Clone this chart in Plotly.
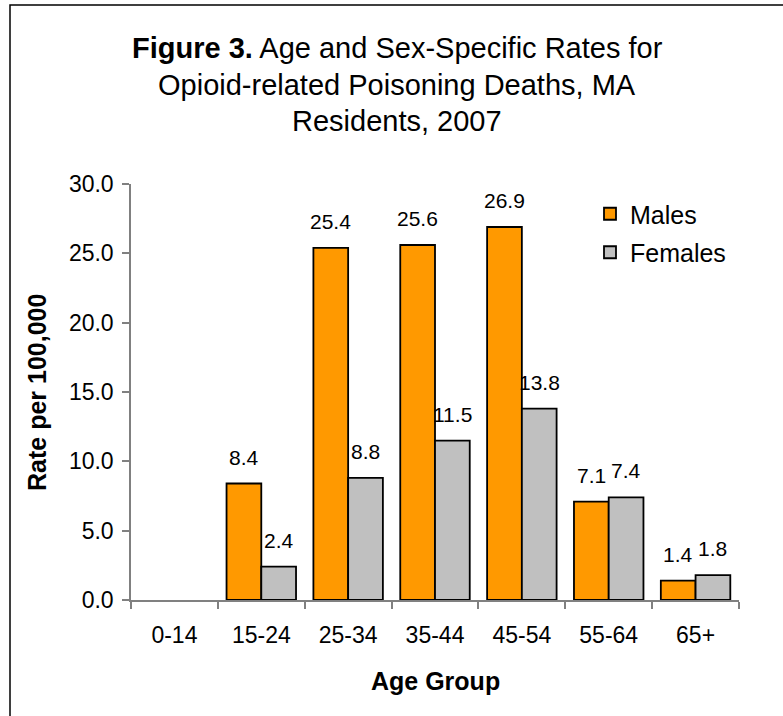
import plotly.graph_objects as go

# Age and sex-specific opioid poisoning death rates (per 100,000), MA 2007
age_groups = ["0-14", "15-24", "25-34", "35-44", "45-54", "55-64", "65+"]
males = [None, 8.4, 25.4, 25.6, 26.9, 7.1, 1.4]
females = [None, 2.4, 8.8, 11.5, 13.8, 7.4, 1.8]
y_ticks = [0, 5, 10, 15, 20, 25, 30]

FONT = "Liberation Sans, Arial, sans-serif"
ORANGE = "#FF9900"
GREY = "#C0C0C0"
AXIS = "#808080"

W, H = 783, 716
L, R, T, B = 131, 44, 184, 116
PW, PH = W - L - R, H - T - B


def px_x(x):
    return (x - L) / PW


def px_y(y):
    return (H - B - y) / PH


fig = go.Figure()
fig.add_trace(go.Bar(
    name="Males", x=age_groups, y=males, legendgroup="males",
    marker=dict(color=ORANGE, line=dict(color="black", width=1.8)),
))
fig.add_trace(go.Bar(
    name="Females", x=age_groups, y=females, legendgroup="females",
    marker=dict(color=GREY, line=dict(color="black", width=1.8)),
))

annotations = []
# value labels above each bar
group_w = PW / len(age_groups) * 0.8
for vals, shift in ((males, -group_w / 4), (females, group_w / 4)):
    for cat, v in zip(age_groups, vals):
        if v is None:
            continue
        annotations.append(dict(
            x=cat, y=v, xref="x", yref="y", xshift=shift, yshift=13,
            text=f"{v:.1f}", showarrow=False, yanchor="bottom",
            font=dict(family=FONT, size=21, color="black"),
        ))

# title lines
title_lines = [
    "<b>Figure 3.</b> Age and Sex-Specific Rates for",
    "Opioid-related Poisoning Deaths, MA",
    "Residents, 2007",
]
for line, yc in zip(title_lines, (48, 85, 121)):
    annotations.append(dict(
        x=px_x(397), y=px_y(yc), xref="paper", yref="paper",
        text=line, showarrow=False, xanchor="center", yanchor="middle",
        font=dict(family=FONT, size=29, color="black"),
    ))

# axis titles
annotations.append(dict(
    x=px_x(435), y=px_y(681), xref="paper", yref="paper",
    text="<b>Age Group</b>", showarrow=False, xanchor="center", yanchor="middle",
    font=dict(family=FONT, size=25, color="black"),
))
annotations.append(dict(
    x=px_x(37), y=px_y(393), xref="paper", yref="paper",
    text="<b>Rate per 100,000</b>", showarrow=False, textangle=-90,
    xanchor="center", yanchor="middle",
    font=dict(family=FONT, size=25, color="black"),
))

# outer chart frame (top and left edges fall inside the canvas)
shapes = [dict(
    type="rect", xref="paper", yref="paper",
    x0=px_x(10), x1=px_x(W + 20), y0=px_y(H + 20), y1=px_y(5),
    line=dict(color="black", width=1.5), fillcolor="rgba(0,0,0,0)",
    layer="below",
)]

fig.update_layout(
    width=W, height=H,
    margin=dict(l=L, r=R, t=T, b=B, pad=0),
    paper_bgcolor="white", plot_bgcolor="white",
    barmode="group", bargap=0.2, bargroupgap=0,
    font=dict(family=FONT, color="black"),
    showlegend=True,
    legend=dict(
        x=px_x(590), y=px_y(191), xanchor="left", yanchor="top",
        font=dict(family=FONT, size=25, color="black"),
        bgcolor="rgba(0,0,0,0)", borderwidth=0,
        traceorder="grouped", tracegroupgap=3, itemclick=False,
    ),
    annotations=annotations,
    shapes=shapes,
    xaxis=dict(
        type="category", range=[-0.5, len(age_groups) - 0.5],
        showline=True, linecolor=AXIS, linewidth=1.5,
        ticks="outside", tickson="boundaries", ticklen=7, tickcolor=AXIS, tickwidth=1.5,
        showgrid=False, zeroline=False,
        tickfont=dict(family=FONT, size=23, color="black"),
        ticklabelstandoff=14, fixedrange=True,
    ),
    yaxis=dict(
        range=[0, 30], tickvals=y_ticks, tickformat=".1f",
        showline=True, linecolor=AXIS, linewidth=1.5,
        ticks="outside", ticklen=7, tickcolor=AXIS, tickwidth=1.5,
        showgrid=False, zeroline=False,
        tickfont=dict(family=FONT, size=23, color="black"),
        ticklabelstandoff=4, fixedrange=True,
    ),
)

fig.write_html("out.html", config={"displayModeBar": False})
